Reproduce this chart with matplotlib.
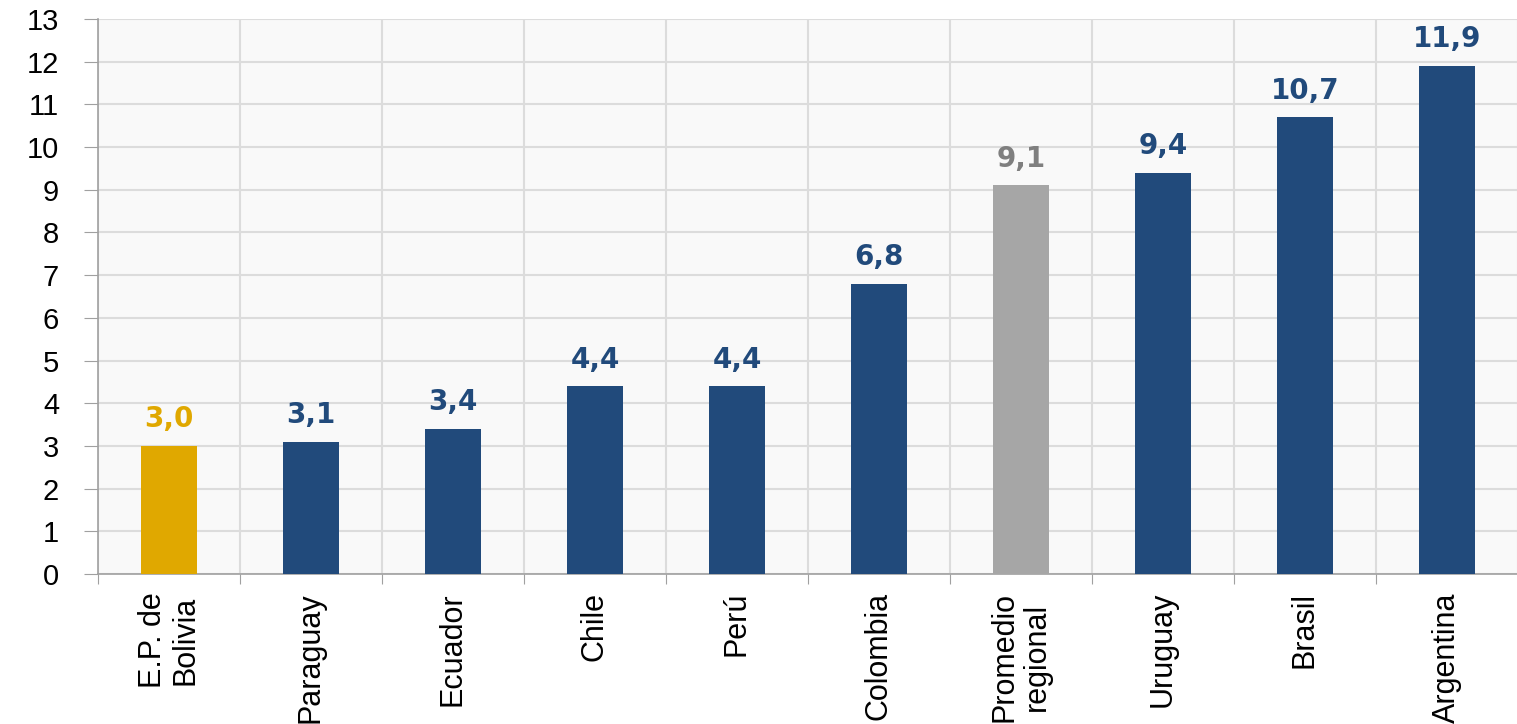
import matplotlib.pyplot as plt
import numpy as np

paises = ["E.P. de\nBolivia", "Paraguay", "Ecuador", "Chile", "Perú", "Colombia",
          "Promedio\nregional", "Uruguay", "Brasil", "Argentina"]
valores = [3.0, 3.1, 3.4, 4.4, 4.4, 6.8, 9.1, 9.4, 10.7, 11.9]
etiquetas = ["3,0", "3,1", "3,4", "4,4", "4,4", "6,8", "9,1", "9,4", "10,7", "11,9"]

azul = "#214a7b"
oro = "#e0a800"
gris = "#a6a6a6"
colores_barra = [oro] + [azul] * 5 + [gris] + [azul] * 3
colores_txt = [oro] + [azul] * 5 + ["#7f7f7f"] + [azul] * 3

fig = plt.figure(figsize=(15.17, 7.24), dpi=100)
ax = fig.add_axes([0.0646, 0.2072, 0.936, 0.7666])
ax.set_facecolor("#f9f9f9")

x = np.arange(len(paises))
ax.bar(x, valores, width=0.4, color=colores_barra, zorder=3)

for xi, v, t, c in zip(x, valores, etiquetas, colores_txt):
    ax.annotate(t, (xi, v), xytext=(0, 9), textcoords="offset points",
                ha="center", va="bottom", fontsize=20, fontweight="bold",
                color=c, family="DejaVu Sans")

ax.set_xlim(-0.5, len(paises) - 0.5)
ax.set_ylim(0, 13)
ax.set_yticks(range(0, 14))

# separadores entre categorías como ticks mayores, nombres en los menores
ax.set_xticks(np.arange(-0.5, len(paises), 1.0))
ax.set_xticklabels([])
ax.set_xticks(x, minor=True)
ax.set_xticklabels(paises, minor=True, rotation=90, ha="center", va="top",
                   multialignment="center", fontsize=22, family="Liberation Sans",
                   linespacing=1.1)
ax.tick_params(axis="x", which="minor", length=0, pad=13)
ax.tick_params(axis="x", which="major", length=7, color="#a0a0a0")
ax.tick_params(axis="y", length=10, color="#a0a0a0", pad=18, labelsize=21)
for lab in ax.get_yticklabels():
    lab.set_family("Liberation Sans")

ax.grid(True, which="major", color="#dcdcdc", linewidth=1.5, zorder=0)
ax.set_axisbelow(True)
for s in ["top", "right"]:
    ax.spines[s].set_visible(False)
for s in ["left", "bottom"]:
    ax.spines[s].set_color("#a0a0a0")
    ax.spines[s].set_linewidth(1.2)

fig.savefig("out.png", dpi=100)
